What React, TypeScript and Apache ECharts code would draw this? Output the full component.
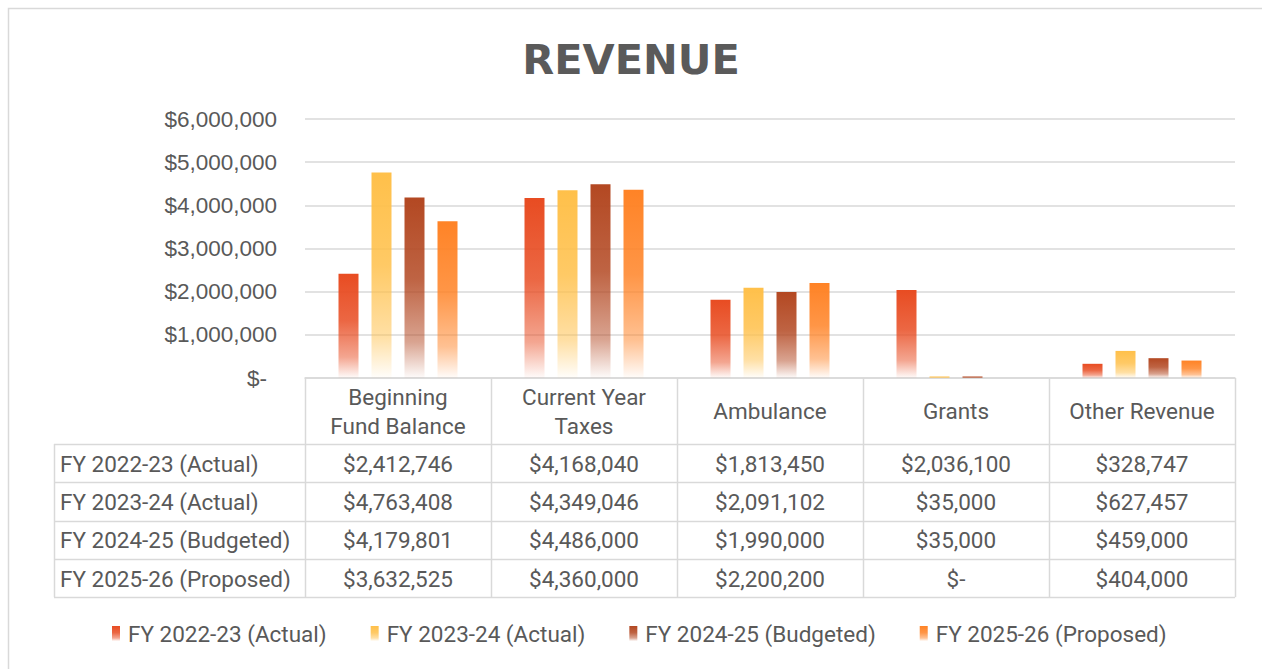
import React, { useEffect, useRef } from "react";
import * as echarts from "echarts";

const categories = ["Beginning\nFund Balance", "Current Year\nTaxes", "Ambulance", "Grants", "Other Revenue"];
const seriesNames = ["FY 2022-23 (Actual)", "FY 2023-24 (Actual)", "FY 2024-25 (Budgeted)", "FY 2025-26 (Proposed)"];
const fy2223 = [2412746, 4168040, 1813450, 2036100, 328747];
const fy2324 = [4763408, 4349046, 2091102, 35000, 627457];
const fy2425 = [4179801, 4486000, 1990000, 35000, 459000];
const fy2526 = [3632525, 4360000, 2200200, 0, 404000];
const seriesColors = ["#E84C22", "#FFC04A", "#B34822", "#FF8326"];
const yMin = 0;
const yMax = 6000000;
const yInterval = 1000000;

const seriesData = [fy2223, fy2324, fy2425, fy2526];

function rgba(hex: string, a: number) {
  const n = parseInt(hex.slice(1), 16);
  return `rgba(${(n >> 16) & 255},${(n >> 8) & 255},${n & 255},${a})`;
}
function grad(hex: string) {
  return {
    type: "linear",
    x: 0,
    y: 0,
    x2: 0,
    y2: 1,
    colorStops: [
      { offset: 0, color: rgba(hex, 1) },
      { offset: 0.45, color: rgba(hex, 0.85) },
      { offset: 0.8, color: rgba(hex, 0.5) },
      { offset: 1, color: rgba(hex, 0.02) },
    ],
  };
}
function money(v: number) {
  return v === 0 ? "$-" : "$" + v.toLocaleString("en-US");
}

const TEXT = "#595959";
const LINE = "#d9d9d9";
const TFONT = "Roboto";
const TSIZE = 22.5;
const YFONT = "Liberation Sans";
const YSIZE = 22.5;

export default function App() {
  const ref = useRef<HTMLDivElement>(null);
  useEffect(() => {
    if (!ref.current) return;
    const chart = echarts.init(ref.current, undefined, { renderer: "svg" });

    const gridLeft = 305;
    const gridRight = 1235;
    const gridTop = 119;
    const gridBottom = 378;
    const colW = (gridRight - gridLeft) / categories.length;
    const tableLeft = 54;
    const rowH = 38.3;
    const headBottom = 444;
    const tableBottom = headBottom + rowH * seriesNames.length;

    const g: any[] = [];
    g.push({
      type: "rect",
      shape: { x: 8.5, y: 8.5, width: 1400, height: 800 },
      style: { fill: "none", stroke: LINE, lineWidth: 1.5 },
      silent: true,
    });
    for (let i = 0; i <= categories.length; i++) {
      const x = Math.round(gridLeft + i * colW) + 0.5;
      g.push({
        type: "line",
        shape: { x1: x, y1: gridBottom, x2: x, y2: tableBottom },
        style: { stroke: LINE, lineWidth: 1.5 },
      });
    }
    g.push({
      type: "line",
      shape: { x1: tableLeft + 0.5, y1: headBottom, x2: tableLeft + 0.5, y2: tableBottom },
      style: { stroke: LINE, lineWidth: 1.5 },
    });
    for (let r = 0; r <= seriesNames.length; r++) {
      const y = Math.round(headBottom + r * rowH) + 0.5;
      g.push({
        type: "line",
        shape: { x1: tableLeft, y1: y, x2: gridRight, y2: y },
        style: { stroke: LINE, lineWidth: 1.5 },
      });
    }
    categories.forEach((c, i) => {
      g.push({
        type: "text",
        x: gridLeft + (i + 0.5) * colW,
        y: (gridBottom + headBottom) / 2,
        style: {
          text: c,
          fill: TEXT,
          font: `${TSIZE}px ${TFONT}`,
          lineHeight: 29,
          align: "center",
          verticalAlign: "middle",
        },
      });
    });
    seriesNames.forEach((name, r) => {
      const cy = headBottom + (r + 0.5) * rowH + 0.5;
      g.push({
        type: "text",
        x: tableLeft + 6,
        y: cy,
        style: { text: name, fill: TEXT, font: `${TSIZE}px ${TFONT}`, align: "left", verticalAlign: "middle" },
      });
      seriesData[r].forEach((v, i) => {
        g.push({
          type: "text",
          x: gridLeft + (i + 0.5) * colW,
          y: cy,
          style: { text: money(v), fill: TEXT, font: `${TSIZE}px ${TFONT}`, align: "center", verticalAlign: "middle" },
        });
      });
    });

    chart.setOption({
      animation: false,
      backgroundColor: "#ffffff",
      title: {
        text: "REVENUE",
        left: "center",
        top: 33,
        textStyle: { fontFamily: "DejaVu Sans", fontWeight: "bold", fontSize: 41.5, color: "#5a5a5a" },
      },
      grid: {
        left: gridLeft,
        top: gridTop,
        width: gridRight - gridLeft,
        height: gridBottom - gridTop,
        containLabel: false,
      },
      legend: {
        data: seriesNames,
        top: 617,
        left: 107,
        icon: "rect",
        itemWidth: 8,
        itemHeight: 15,
        itemGap: 44,
        textStyle: { fontFamily: TFONT, fontSize: TSIZE, color: TEXT, padding: [0, 0, 0, 3] },
      },
      xAxis: {
        type: "category",
        data: categories,
        axisLine: { show: true, lineStyle: { color: LINE, width: 1.5 } },
        axisTick: { show: false },
        axisLabel: { show: false },
        splitLine: { show: false },
      },
      yAxis: {
        type: "value",
        min: yMin,
        max: yMax,
        interval: yInterval,
        axisLine: { show: false },
        axisTick: { show: false },
        splitLine: { lineStyle: { color: LINE, width: 1.5 } },
        axisLabel: {
          margin: 28,
          fontFamily: YFONT,
          fontSize: YSIZE,
          color: TEXT,
          formatter: (v: number) => (v === 0 ? "{z|$-}" : "$" + v.toLocaleString("en-US")),
          rich: {
            z: { fontFamily: YFONT, fontSize: YSIZE, color: TEXT, padding: [0, 10, 0, 0] },
          },
        },
      },
      series: seriesNames.map((name, i) => ({
        name,
        type: "bar",
        data: seriesData[i],
        barWidth: 20,
        barGap: "65%",
        itemStyle: { color: grad(seriesColors[i]) },
      })),
      graphic: g,
    });

    return () => chart.dispose();
  }, []);

  return (
    <div
      ref={ref}
      style={{ position: "fixed", left: 0, top: 0, width: 1262, height: 669 }}
    />
  );
}
